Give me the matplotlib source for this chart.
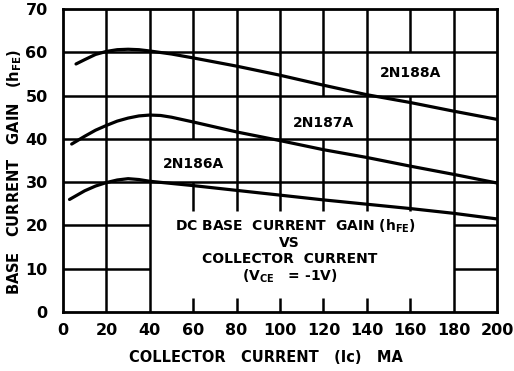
import matplotlib

matplotlib.use("Agg")
import matplotlib.pyplot as plt

plt.rcParams["font.family"] = ["DejaVu Sans"]
plt.rcParams["font.weight"] = "bold"
plt.rcParams["mathtext.fontset"] = "dejavusans"
plt.rcParams["mathtext.default"] = "bf"

# hFE curves (Ic in mA)
ic_188 = [6, 10, 15, 20, 25, 30, 35, 40, 50, 60, 80, 100, 120, 140, 160, 180, 200]
hfe_188 = [57.3, 58.3, 59.5, 60.2, 60.6, 60.7, 60.6, 60.3, 59.6, 58.7, 56.8, 54.7, 52.4, 50.2, 48.4, 46.4, 44.5]

ic_187 = [4, 10, 15, 20, 25, 30, 35, 40, 45, 50, 60, 80, 100, 120, 140, 160, 180, 200]
hfe_187 = [38.8, 40.6, 42.0, 43.1, 44.1, 44.8, 45.3, 45.5, 45.4, 45.0, 43.9, 41.6, 39.6, 37.5, 35.7, 33.7, 31.8, 29.8]

ic_186 = [3, 10, 15, 20, 25, 30, 35, 40, 50, 60, 80, 100, 120, 140, 160, 180, 200]
hfe_186 = [26.0, 28.0, 29.1, 29.9, 30.5, 30.8, 30.6, 30.2, 29.7, 29.2, 28.1, 27.0, 25.9, 24.9, 23.9, 22.8, 21.5]

curve_labels = ["2N188A", "2N187A", "2N186A"]
x_ticks = [0, 20, 40, 60, 80, 100, 120, 140, 160, 180, 200]
y_ticks = [0, 10, 20, 30, 40, 50, 60, 70]

GRID_LW = 1.8
INK = "black"

fig = plt.figure(figsize=(5.14, 3.71), dpi=100)
ax = fig.add_axes([63 / 514, 1 - 312 / 371, 434 / 514, 303 / 371])
ax.set_xlim(0, 200)
ax.set_ylim(0, 70)

# grid drawn by hand so the cells holding the labels stay blank
box_lo, box_hi = 3.3, 23.4
v_gaps = {60: [(30, 40)], 120: [(40, 50)], 160: [(50, 60)]}
for x in x_ticks[1:-1]:
    if x in (20, 40, 180):
        spans = [(0, 70)]
    else:
        spans = [(0, box_lo), (box_hi, 70)]
        for g0, g1 in v_gaps.get(x, []):
            new = []
            for a, b in spans:
                if b <= g0 or a >= g1:
                    new.append((a, b))
                else:
                    if a < g0:
                        new.append((a, g0))
                    if b > g1:
                        new.append((g1, b))
            spans = new
    for a, b in spans:
        ax.plot([x, x], [a, b], color=INK, lw=GRID_LW, solid_capstyle="butt", zorder=1)

for y in y_ticks[1:-1]:
    if y in (10, 20):
        spans = [(0, 40), (180, 200)]
    else:
        spans = [(0, 200)]
    for a, b in spans:
        ax.plot([a, b], [y, y], color=INK, lw=GRID_LW, solid_capstyle="butt", zorder=1)

for xs, ys in [(ic_188, hfe_188), (ic_187, hfe_187), (ic_186, hfe_186)]:
    ax.plot(xs, ys, color=INK, lw=2.3, solid_capstyle="round", zorder=3)

label_pos = [(160, 55.1), (120, 43.6), (60, 34.3)]
for name, (lx, ly) in zip(curve_labels, label_pos):
    ax.text(lx, ly, name, ha="center", va="center", fontsize=10, fontweight="bold")

ax.text(107, 19.7, r"DC BASE  CURRENT  GAIN (h$_{FE}$)", ha="center", va="center", fontsize=10)
ax.text(104.5, 15.9, "VS", ha="center", va="center", fontsize=10)
ax.text(104.5, 12.3, "COLLECTOR  CURRENT", ha="center", va="center", fontsize=10)
ax.text(104.5, 8.3, r"(V$_{CE}$   = -1V)", ha="center", va="center", fontsize=10)

for s in ax.spines.values():
    s.set_linewidth(2.0)
    s.set_color(INK)

ax.set_xticks(x_ticks)
ax.set_yticks(y_ticks)
ax.tick_params(length=0, labelsize=11.5, pad=8)
ax.tick_params(axis="y", pad=11)
for t in ax.get_xticklabels() + ax.get_yticklabels():
    t.set_fontweight("bold")

fig.text(266 / 514, 1 - 358 / 371, "COLLECTOR   CURRENT   (Ic)   MA",
         ha="center", va="center", fontsize=10.5)
fig.text(15 / 514, 1 - 172 / 371, r"BASE   CURRENT   GAIN   (h$_{FE}$)",
         ha="center", va="center", rotation=90, fontsize=10.5)

fig.savefig("out.png", dpi=100)
